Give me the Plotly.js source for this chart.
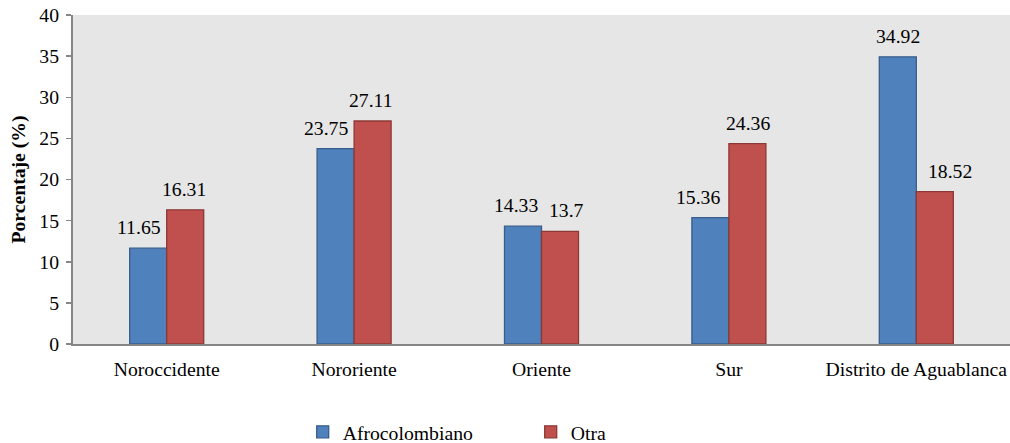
<!DOCTYPE html>
<html>
<head>
<meta charset="utf-8">
<script src="https://cdn.plot.ly/plotly-3.0.1.min.js"></script>
<style>
  html, body { margin: 0; padding: 0; background: #ffffff; }
  #chart { width: 1010px; height: 443px; }
</style>
</head>
<body>
<div id="chart"></div>
<script>
// Zonas de la ciudad
const categories = ["Noroccidente", "Nororiente", "Oriente", "Sur", "Distrito de Aguablanca"];

// Porcentaje por grupo étnico
const afrocolombiano = [11.65, 23.75, 14.33, 15.36, 34.92];
const otra = [16.31, 27.11, 13.7, 24.36, 18.52];

const seriesNames = ["Afrocolombiano", "Otra"];
const yTicks = [0, 5, 10, 15, 20, 25, 30, 35, 40];

// Small horizontal nudges (px) that keep neighbouring value labels apart
const nudgeAfro = [-9, -9.5, -7, -12.5, 0];
const nudgeOtra = [-1, -2, 6, 0, 15];

const serif = "Liberation Serif, Times New Roman, serif";
const fs = 19.7;
const halfBar = 18.7;

const traces = [
  {
    type: "bar",
    name: seriesNames[0],
    x: categories,
    y: afrocolombiano,
    marker: { color: "#4f81bd", line: { color: "#385d8a", width: 1.3 } },
    hoverinfo: "skip"
  },
  {
    type: "bar",
    name: seriesNames[1],
    x: categories,
    y: otra,
    marker: { color: "#c0504d", line: { color: "#8c3836", width: 1.3 } },
    hoverinfo: "skip"
  }
];

function valueLabels(values, side, nudges) {
  return values.map((v, i) => ({
    xref: "x",
    yref: "y",
    x: categories[i],
    y: v,
    text: String(v),
    showarrow: false,
    xanchor: "center",
    yanchor: "middle",
    xshift: side * halfBar + nudges[i],
    yshift: 21,
    font: { family: serif, size: fs, color: "#000000" }
  }));
}

const layout = {
  width: 1010,
  height: 443,
  margin: { l: 73, r: 0, t: 15, b: 99 },
  paper_bgcolor: "#ffffff",
  plot_bgcolor: "#e6e6e6",
  barmode: "group",
  bargap: 0.605,
  bargroupgap: 0,
  font: { family: serif, size: fs, color: "#000000" },
  showlegend: true,
  legend: {
    orientation: "h",
    xref: "container",
    yref: "container",
    x: 0.2997,
    xanchor: "left",
    y: 0.0248,
    yanchor: "middle",
    entrywidth: 183,
    font: { family: serif, size: fs, color: "#000000" },
    bgcolor: "rgba(0,0,0,0)"
  },
  xaxis: {
    type: "category",
    showgrid: false,
    zeroline: false,
    showline: true,
    linecolor: "#868686",
    linewidth: 2,
    ticks: "",
    ticklabelstandoff: 6,
    tickfont: { family: serif, size: fs, color: "#000000" },
    fixedrange: true
  },
  yaxis: {
    range: [0, 40],
    tickvals: yTicks,
    ticktext: yTicks.map(String),
    showgrid: false,
    zeroline: false,
    showline: true,
    linecolor: "#868686",
    linewidth: 2,
    ticks: "outside",
    ticklen: 5,
    tickwidth: 1.5,
    tickcolor: "#868686",
    ticklabelstandoff: 3,
    tickfont: { family: serif, size: fs, color: "#000000" },
    title: {
      text: "<b>Porcentaje (%)</b>",
      standoff: 8,
      font: { family: serif, size: fs, color: "#000000" }
    },
    automargin: false,
    fixedrange: true
  },
  annotations: valueLabels(afrocolombiano, -1, nudgeAfro).concat(valueLabels(otra, 1, nudgeOtra))
};

Plotly.newPlot("chart", traces, layout, { displayModeBar: false, staticPlot: true });
</script>
</body>
</html>
